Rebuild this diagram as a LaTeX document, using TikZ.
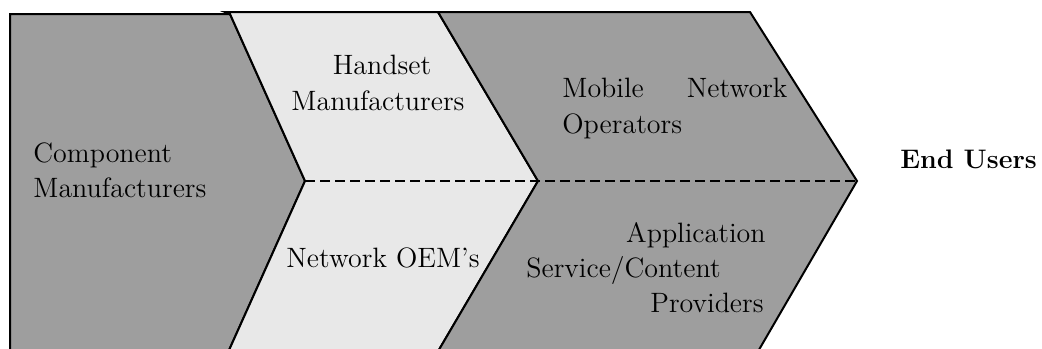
\documentclass[tikz,border=0pt]{standalone}
\usepackage{tikz}
\definecolor{darkfill}{HTML}{9E9E9E}
\definecolor{lightfill}{HTML}{E8E8E8}
\begin{document}
\begin{tikzpicture}[x=0.5pt,y=-0.5pt,
  outline/.style={draw=black,line width=1pt,line join=miter},
  lbl/.style={inner sep=0pt,font=\fontsize{14}{17}\selectfont},
  boldlbl/.style={inner sep=0pt,font=\fontsize{13.4}{16}\selectfont\bfseries},
  divider/.style={draw=black,line width=0.8pt,dash pattern=on 5pt off 2.5pt}]
\useasboundingbox (0,0) rectangle (1042,348);
\begin{scope}
\clip (0,0) rectangle (1042,348);
% dark first chevron
\filldraw[outline,fill=darkfill] (10,360) -- (10,14) -- (230,14) -- (305,181) -- (230,348) -- (222,366);
% light second chevron
\filldraw[outline,fill=lightfill] (225,12) -- (438,12) -- (538,181) -- (440,348) -- (430,366) -- (222,366) -- (230,348) -- (305,181) -- (230,14) -- cycle;
% dark third chevron
\filldraw[outline,fill=darkfill] (438,12) -- (750,12) -- (857,181) -- (760,348) -- (750,366) -- (430,366) -- (440,348) -- (538,181) -- cycle;
\end{scope}
\coordinate (dl) at (305,181);
\coordinate (dr) at (857,181);
\draw[divider] (dl) -- (dr);
% labels
\node[lbl,anchor=base west] (comp1) at (33,162) {Component};
\node[lbl,anchor=base west] (comp2) at (33,197) {Manufacturers};
\node[lbl,anchor=base] (hand1) at (382,74) {Handset};
\node[lbl,anchor=base] (hand2) at (378,110) {Manufacturers};
\node[lbl,anchor=base] (oem) at (383,267) {Network OEM's};
\node[lbl,anchor=base west] (mno1) at (562,97) {\makebox[112.5pt][s]{Mobile Network}};
\node[lbl,anchor=base west] (mno2) at (562,133) {Operators};
\node[lbl,anchor=base east] (app1) at (766,242) {Application};
\node[lbl,anchor=base west] (app2) at (526,277) {Service/Content};
\node[lbl,anchor=base east] (app3) at (764,312) {Providers};
\node[boldlbl,anchor=base west] (end) at (900,168) {End Users};
\end{tikzpicture}
\end{document}
